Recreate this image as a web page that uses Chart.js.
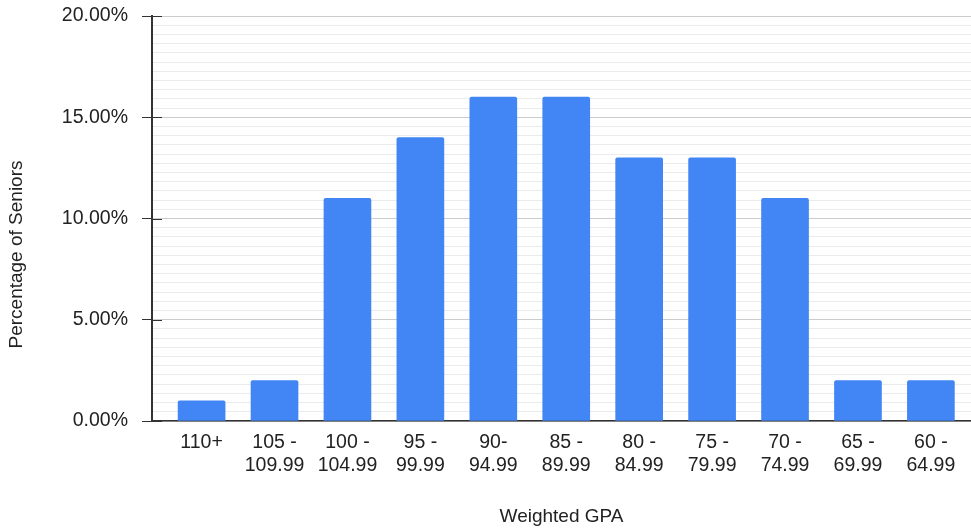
<!DOCTYPE html>
<html>
<head>
<meta charset="utf-8">
<script src="https://cdn.jsdelivr.net/npm/chart.js@4/dist/chart.umd.min.js"></script>
<style>
  body { margin: 0; background: #fff; }
</style>
</head>
<body>
<canvas id="chart-gpa" width="971" height="529"></canvas>
<script>
// GPA bands, left to right, each label split in its two printed lines
const gpaBands = [
  ['110+'], ['105 -', '109.99'], ['100 -', '104.99'], ['95 -', '99.99'], ['90-', '94.99'],
  ['85 -', '89.99'], ['80 -', '84.99'], ['75 -', '79.99'], ['70 -', '74.99'],
  ['65 -', '69.99'], ['60 -', '64.99']
];
// percentage of seniors in each band
const seniorPct = [1, 2, 11, 14, 16, 16, 13, 13, 11, 2, 2];
// labelled y ticks
const yMajorTicks = [0, 5, 10, 15, 20];
const minorPerMajor = 11; // light lines between labelled ones

const textColor = '#222';
const fontFam = "'Liberation Sans', Arial, sans-serif";

// draws the short tick stub inside the plot + the rotated y title
const extras = {
  id: 'extras',
  afterDraw(chart) {
    const ctx = chart.ctx, area = chart.chartArea, y = chart.scales.y;
    ctx.save();
    ctx.strokeStyle = '#333';
    ctx.lineWidth = 1;
    yMajorTicks.forEach(v => {
      const py = Math.round(y.getPixelForValue(v)) + 0.5;
      ctx.beginPath();
      ctx.moveTo(area.left, py);
      ctx.lineTo(area.left + 10, py);
      ctx.stroke();
    });
    ctx.fillStyle = textColor;
    ctx.font = '19px ' + fontFam;
    ctx.textAlign = 'center';
    ctx.textBaseline = 'middle';
    ctx.translate(17, (area.top + area.bottom) / 2 + 36);
    ctx.rotate(-Math.PI / 2);
    ctx.fillText('Percentage of Seniors', 0, 0);
    ctx.restore();
  }
};

new Chart(document.getElementById('chart-gpa'), {
  type: 'bar',
  data: {
    datasets: [{
      label: 'Percentage of Seniors',
      data: seniorPct.map((v, i) => ({x: i, y: v})),
      backgroundColor: '#4285f4',
      borderRadius: {topLeft: 2, topRight: 2},
      borderSkipped: 'bottom',
      barThickness: 47
    }]
  },
  options: {
    responsive: false,
    animation: false,
    layout: {padding: {top: 16, right: 0, left: 0, bottom: 0}},
    plugins: {legend: {display: false}, tooltip: {enabled: false}},
    scales: {
      x: {
        type: 'linear',
        offset: false,
        min: -0.68,
        max: 10.55,
        afterBuildTicks: s => { s.ticks = gpaBands.map((_, i) => ({value: i})); },
        afterFit: s => { s.height = 108; s.paddingLeft = 0; s.paddingRight = 0; },
        grid: {display: false, drawTicks: false, offset: false},
        border: {display: true, color: '#333', width: 1.5},
        ticks: {
          autoSkip: false,
          maxRotation: 0,
          padding: 10,
          color: textColor,
          font: {family: fontFam, size: 19.5, lineHeight: 1.2},
          callback: v => gpaBands[v]
        },
        title: {
          display: true,
          text: 'Weighted GPA',
          color: textColor,
          font: {family: fontFam, size: 19, lineHeight: 1.2},
          padding: {top: 0, bottom: 1}
        }
      },
      y: {
        min: 0,
        max: 20,
        afterBuildTicks: s => {
          const step = 5 / minorPerMajor;
          const n = minorPerMajor * (yMajorTicks.length - 1);
          s.ticks = [];
          for (let i = 0; i <= n; i++) s.ticks.push({value: i * step, major: i % minorPerMajor === 0});
        },
        afterFit: s => { s.width = 152; s.paddingTop = 0; s.paddingBottom = 0; },
        grid: {
          color: c => (c.index % minorPerMajor === 0 ? '#cccccc' : '#ebebeb'),
          tickColor: c => (c.index % minorPerMajor === 0 ? '#333' : 'rgba(0,0,0,0)'),
          tickLength: 10
        },
        border: {display: true, color: '#333', width: 2},
        ticks: {
          autoSkip: false,
          padding: 14,
          color: textColor,
          font: {family: fontFam, size: 19.5},
          callback: (v, i) => (i % minorPerMajor === 0 ? (i / minorPerMajor * 5).toFixed(2) + '%' : '')
        }
      }
    }
  },
  plugins: [extras]
});
</script>
</body>
</html>
